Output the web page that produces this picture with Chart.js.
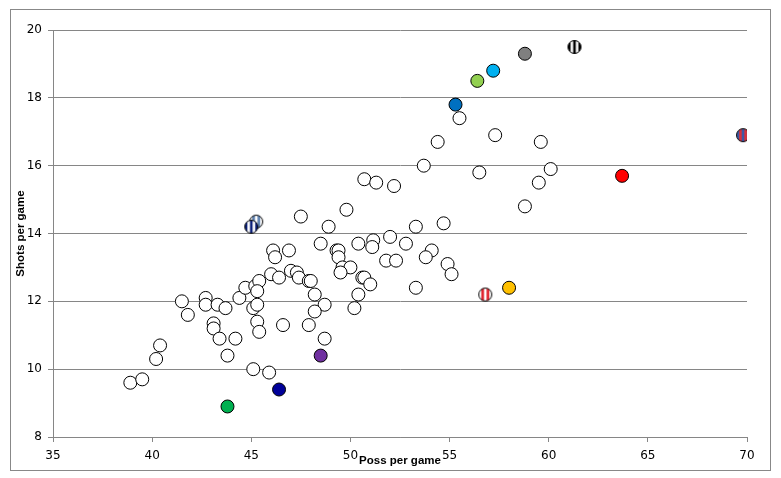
<!DOCTYPE html>
<html>
<head>
<meta charset="utf-8">
<script src="https://cdn.jsdelivr.net/npm/chart.js@4.4.1/dist/chart.umd.min.js"></script>
<style>
    html, body { margin: 0; padding: 0; background: #fff; }
    #chart { display: block; }
</style>
</head>
<body>
<canvas id="chart" width="781" height="478" style="width:781px;height:478px"></canvas>
<script>
// ---- DATA ----
// regular teams (white markers)
const possWhite = [
    38.9, 39.5, 40.2, 40.4, 41.5, 41.8, 42.7, 42.7, 43.3, 43.7,
    43.1, 43.1, 43.4, 44.2, 43.8, 44.4, 44.7, 45.1, 45.9, 45.2,
    45.4, 45.3, 45.1, 45.3, 45.3, 45.4, 46.0, 46.1, 46.2, 46.9,
    46.4, 47.0, 47.3, 47.4, 47.9, 48.0, 48.2, 48.7, 48.2, 47.9,
    46.6, 48.7, 47.5, 48.9, 49.8, 48.5, 49.3, 49.4, 49.4, 49.6,
    50.0, 49.5, 50.6, 50.7, 51.0, 50.4, 50.2, 50.4, 51.15, 51.1,
    52.0, 52.8, 51.8, 52.3, 54.1, 53.8, 54.9, 55.1, 53.3, 50.7,
    51.3, 52.2, 53.3, 54.7, 53.7, 54.4, 55.5, 57.3, 56.5, 59.6,
    60.1, 59.5, 58.8
];
const shotsWhite = [
    9.6, 9.7, 10.3, 10.7, 12.0, 11.6, 12.1, 11.9, 11.9, 11.8,
    11.35, 11.2, 10.9, 10.9, 10.4, 12.1, 12.4, 10.0, 9.9, 12.45,
    12.6, 12.3, 11.8, 11.9, 11.4, 11.1, 12.8, 13.5, 13.3, 13.5,
    12.7, 12.9, 12.85, 12.7, 12.6, 12.6, 12.2, 11.9, 11.7, 11.3,
    11.3, 10.9, 14.5, 14.2, 14.7, 13.7, 13.5, 13.5, 13.3, 13.0,
    13.0, 12.85, 12.7, 12.7, 12.5, 12.2, 11.8, 13.7, 13.8, 13.6,
    13.9, 13.7, 13.2, 13.2, 13.5, 13.3, 13.1, 12.8, 12.4, 15.6,
    15.5, 15.4, 14.2, 14.3, 16.0, 16.7, 17.4, 16.9, 15.8, 16.7,
    15.9, 15.5, 14.8
];

// highlighted teams (coloured markers)
const possHighlight  = [45.25, 45.0, 55.3, 56.4, 57.2, 58.8, 61.3, 63.7, 69.8, 56.8, 58.0, 48.5, 46.4, 43.8];
const shotsHighlight = [14.35, 14.2, 17.8, 18.5, 18.8, 19.3, 19.5, 15.7, 16.9, 12.2, 12.4, 10.4, 9.4, 8.9];

// axis ticks
const xTicks = [35, 40, 45, 50, 55, 60, 65, 70];
const yTicks = [8, 10, 12, 14, 16, 18, 20];

// ---- STYLES ----
const highlightFill = [
    ['#ffffff', '#5b7fb0'],
    ['#0a1f7a', '#ffffff'],
    '#0070c0', '#92d050', '#00b0f0', '#7f7f7f',
    ['#000000', '#ffffff'],
    '#ff0000',
    ['#3d5aa8', '#d9323a'],
    ['#ffffff', '#e0202a'],
    '#ffc000', '#7030a0', '#000099', '#00b050'
];

const R = 6.5;
const gridColor = '#868686';
const tickFont = { family: 'DejaVu Sans', size: 12 };

function stripeMarker(bg, fg) {
    const size = Math.ceil(R * 2 + 3);
    const c = document.createElement('canvas');
    c.width = size; c.height = size;
    const g = c.getContext('2d');
    const cx = size / 2;
    g.save();
    g.beginPath();
    g.arc(cx, cx, R, 0, Math.PI * 2);
    g.clip();
    g.fillStyle = bg;
    g.fillRect(0, 0, size, size);
    // 5 vertical bands, alternate bands in fg
    const w = (R * 2) / 5;
    g.fillStyle = fg;
    for (let i = 1; i < 5; i += 2) {
        g.fillRect(cx - R + w * i, 0, w, size);
    }
    g.restore();
    g.beginPath();
    g.arc(cx, cx, R, 0, Math.PI * 2);
    g.lineWidth = 1;
    g.strokeStyle = '#000';
    g.stroke();
    return c;
}

const hlStyles = highlightFill.map(f => Array.isArray(f) ? stripeMarker(f[0], f[1]) : 'circle');
const hlColors = highlightFill.map(f => Array.isArray(f) ? f[0] : f);

// ---- PLUGINS ----
const frameAndTitles = {
    id: 'frameAndTitles',
    beforeDraw(chart) {
        const ctx = chart.ctx;
        ctx.save();
        ctx.fillStyle = '#fff';
        ctx.fillRect(0, 0, chart.width, chart.height);
        ctx.strokeStyle = '#888';
        ctx.lineWidth = 1;
        ctx.strokeRect(10.5, 9.5, 760, 461);
        ctx.restore();
    },
    afterDraw(chart) {
        const ctx = chart.ctx;
        const a = chart.chartArea;
        ctx.save();
        ctx.fillStyle = '#000';
        ctx.font = 'bold 11.5px "Liberation Sans", Arial, sans-serif';
        ctx.textAlign = 'center';
        ctx.textBaseline = 'middle';
        ctx.fillText('Poss per game', (a.left + a.right) / 2, 461);
        ctx.translate(21, (a.top + a.bottom) / 2);
        ctx.rotate(-Math.PI / 2);
        ctx.fillText('Shots per game', 0, 0);
        ctx.restore();
    }
};

// ---- CHART ----
const ctx = document.getElementById('chart').getContext('2d');
new Chart(ctx, {
    type: 'scatter',
    data: {
        datasets: [
            {
                label: 'Teams',
                data: possWhite.map((x, i) => ({ x: x, y: shotsWhite[i] })),
                backgroundColor: '#ffffff',
                borderColor: '#000000',
                borderWidth: 1,
                pointRadius: R,
                pointHoverRadius: R
            },
            {
                label: 'Highlighted',
                data: possHighlight.map((x, i) => ({ x: x, y: shotsHighlight[i] })),
                backgroundColor: hlColors,
                borderColor: '#000000',
                borderWidth: 1,
                pointRadius: R,
                pointHoverRadius: R,
                pointStyle: hlStyles
            }
        ]
    },
    options: {
        responsive: false,
        animation: false,
        layout: { padding: { top: 30, right: 34, left: 0, bottom: 0 } },
        plugins: {
            legend: { display: false },
            tooltip: { enabled: false }
        },
        scales: {
            x: {
                type: 'linear',
                min: xTicks[0],
                max: xTicks[xTicks.length - 1],
                afterBuildTicks: s => { s.ticks = xTicks.map(v => ({ value: v })); },
                afterFit: s => { s.height = 41; },
                ticks: { color: '#000', font: tickFont, padding: 7 },
                grid: { drawOnChartArea: false, drawTicks: true, tickLength: 5, color: gridColor },
                border: { color: gridColor }
            },
            y: {
                type: 'linear',
                min: yTicks[0],
                max: yTicks[yTicks.length - 1],
                afterBuildTicks: s => { s.ticks = yTicks.map(v => ({ value: v })); },
                afterFit: s => { s.width = 53; },
                ticks: { color: '#000', font: tickFont, padding: 6 },
                grid: { color: gridColor, tickLength: 5 },
                border: { color: gridColor }
            }
        }
    },
    plugins: [frameAndTitles]
});
</script>
</body>
</html>
